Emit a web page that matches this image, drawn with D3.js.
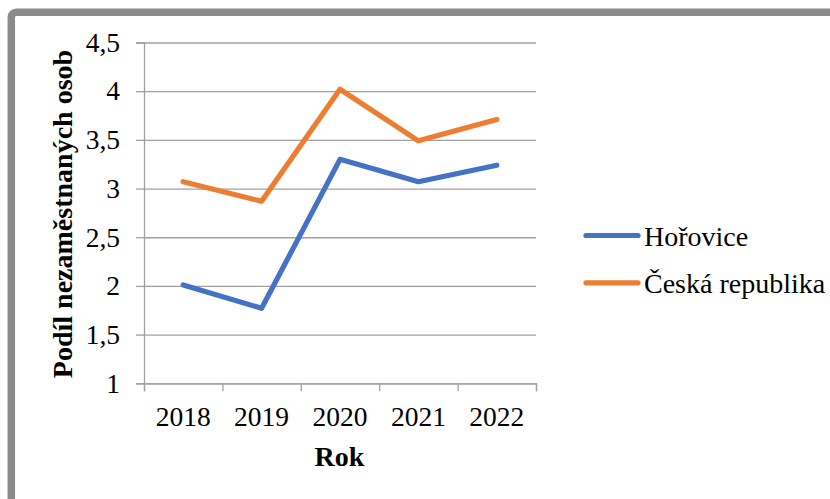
<!DOCTYPE html>
<html>
<head>
<meta charset="utf-8">
<script src="https://cdn.jsdelivr.net/npm/d3@7"></script>
<style>
    body { margin: 0; background: #fff; }
</style>
</head>
<body>
<div id="chart"></div>
<script>
var years = ["2018", "2019", "2020", "2021", "2022"];
var horovice = [2.01, 1.77, 3.30, 3.07, 3.24];
var ceskaRepublika = [3.07, 2.87, 4.02, 3.49, 3.71];
var seriesNames = ["Hořovice", "Česká republika"];
var seriesColors = ["#4472C4", "#ED7D31"];
var yTicks = [1, 1.5, 2, 2.5, 3, 3.5, 4, 4.5];

var W = 830, H = 499;
var plotLeft = 144, plotRight = 536, plotTop = 42.5, plotBottom = 383.3;
var FONT = "'Liberation Serif', 'Times New Roman', serif";

var svg = d3.select("#chart").append("svg")
    .attr("width", W)
    .attr("height", H);

// frame, only top/left edges are visible in the picture
svg.append("rect")
    .attr("x", 11.3).attr("y", 12.3)
    .attr("width", 960).attr("height", 640)
    .attr("rx", 5)
    .attr("fill", "none")
    .attr("stroke", "#8a8a8a")
    .attr("stroke-width", 7.5);

var x = d3.scaleBand().domain(years).range([plotLeft, plotRight]);
var xEdges = d3.scaleLinear().domain([0, years.length]).range([plotLeft, plotRight]);
var y = d3.scaleLinear().domain([1, 4.5]).range([plotBottom, plotTop]);

var fmt = function(d) { return String(d).replace(".", ","); };

function styleText(sel, size) {
    sel.style("font-family", FONT).style("font-size", size + "px").attr("fill", "#000");
}

// gridlines
svg.append("g")
    .attr("transform", "translate(" + plotLeft + ",0)")
    .call(d3.axisLeft(y).tickValues(yTicks).tickSize(-(plotRight - plotLeft)).tickFormat(""))
    .call(function(g) {
        g.select(".domain").remove();
        g.selectAll("line").attr("stroke", "#a0a0a0").attr("stroke-width", 1.3);
    });

// y axis
svg.append("g")
    .attr("transform", "translate(" + plotLeft + ",0)")
    .call(d3.axisLeft(y).tickValues(yTicks).tickSize(8).tickPadding(16).tickFormat(fmt))
    .call(function(g) {
        g.select(".domain").attr("stroke", "#a0a0a0").attr("stroke-width", 1.3);
        g.selectAll("line").attr("stroke", "#a0a0a0").attr("stroke-width", 1.3);
        styleText(g.selectAll("text"), 27.5);
    });

// x axis, ticks between categories
svg.append("g")
    .attr("transform", "translate(0," + plotBottom + ")")
    .call(d3.axisBottom(xEdges).ticks(years.length).tickSize(8).tickFormat(""))
    .call(function(g) {
        g.select(".domain").attr("stroke", "#a0a0a0").attr("stroke-width", 1.3);
        g.selectAll("line").attr("stroke", "#a0a0a0").attr("stroke-width", 1.3);
    });

svg.append("g")
    .attr("transform", "translate(0," + plotBottom + ")")
    .call(d3.axisBottom(x).tickSize(0).tickPadding(23))
    .call(function(g) {
        g.select(".domain").remove();
        styleText(g.selectAll("text"), 27.5);
    });

// axis titles
svg.append("text")
    .attr("x", (plotLeft + plotRight) / 2 - 0.5)
    .attr("y", 466)
    .attr("text-anchor", "middle")
    .call(styleText, 28)
    .style("font-weight", "bold")
    .text("Rok");

svg.append("text")
    .attr("transform", "translate(72,214) rotate(-90)")
    .attr("text-anchor", "middle")
    .call(styleText, 28)
    .style("font-weight", "bold")
    .text("Podíl nezaměstnaných osob");

// lines
var line = d3.line()
    .x(function(d, i) { return x(years[i]) + x.bandwidth() / 2; })
    .y(function(d) { return y(d); });

[horovice, ceskaRepublika].forEach(function(s, i) {
    svg.append("path")
        .datum(s)
        .attr("d", line)
        .attr("fill", "none")
        .attr("stroke", seriesColors[i])
        .attr("stroke-width", 5.2)
        .attr("stroke-linecap", "round")
        .attr("stroke-linejoin", "round");
});

// legend
var legend = svg.append("g");
seriesNames.forEach(function(name, i) {
    var ly = 235.5 + i * 47.3;
    legend.append("line")
        .attr("x1", 586).attr("x2", 638)
        .attr("y1", ly).attr("y2", ly)
        .attr("stroke", seriesColors[i])
        .attr("stroke-width", 5.2)
        .attr("stroke-linecap", "round");
    legend.append("text")
        .attr("x", 644)
        .attr("y", ly + 10)
        .call(styleText, 28)
        .text(name);
});
</script>
</body>
</html>
